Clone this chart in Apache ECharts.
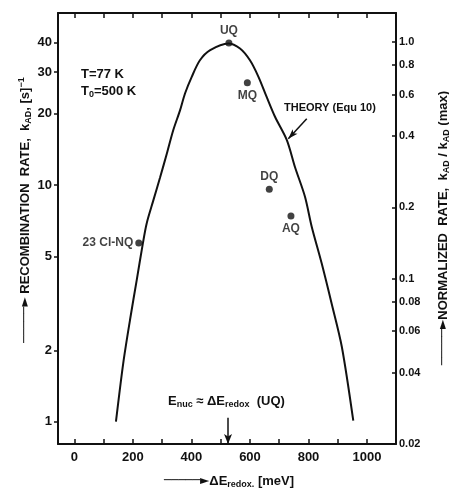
<!DOCTYPE html>
<html><head><meta charset="utf-8">
<script src="https://cdn.jsdelivr.net/npm/echarts@6/dist/echarts.min.js"></script>
<style>html,body{margin:0;padding:0;background:#fff}#c{width:449px;height:489px}</style>
</head><body><div id="c"></div>
<script>
// Theory curve (Equ 10)
const theoryX = [142, 167, 190, 213, 234, 247, 270, 293, 316, 338, 361, 378, 401, 429, 464, 526, 566, 600, 629, 657, 686, 726, 754, 788, 811, 845, 879, 914, 953];
const theoryY = [1.0, 1.77, 2.69, 3.97, 5.67, 6.89, 8.64, 10.8, 13.6, 17.1, 20.7, 24.4, 28.7, 33.7, 37.2, 39.7, 37.8, 33.7, 28.7, 23.6, 19.4, 15.5, 11.9, 8.93, 6.67, 4.67, 3.16, 2.07, 1.01];
// Measured quinones
const pointNames = ['UQ', 'MQ', 'DQ', 'AQ', '23 Cl-NQ'];
const pointX = [528, 591, 666, 740, 220];
const pointY = [39.9, 27.1, 9.6, 7.4, 5.7];
// Axis ticks
const xTickValues = [0, 100, 200, 300, 400, 500, 600, 700, 800, 900, 1000];
const xLabelValues = [0, 200, 400, 600, 800, 1000];
const leftTickValues = [1, 2, 5, 10, 20, 30, 40];
const rightTickValues = [0.02, 0.04, 0.06, 0.08, 0.1, 0.2, 0.4, 0.6, 0.8, 1.0];
const rightTickLabels = ['0.02', '0.04', '0.06', '0.08', '0.1', '0.2', '0.4', '0.6', '0.8', '1.0'];
// Annotation arrows (data coords)
const ucArrow = [[525, 1.04], [525, 0.805]];
const theoryArrow = [[794, 19.1], [731, 15.7]];

const FONT = "'Liberation Sans', Arial, sans-serif";
const INK = '#111';
const labelPos = { 'UQ': 'top', 'MQ': 'bottom', 'DQ': 'top', 'AQ': 'bottom', '23 Cl-NQ': 'left' };

const chart = echarts.init(document.getElementById('c'), null, { renderer: 'canvas' });

const theoryData = theoryX.map((x, i) => [x, theoryY[i]]);
const pointData = pointNames.map((n, i) => ({
  name: n, value: [pointX[i], pointY[i]],
  label: { position: labelPos[n], distance: n === '23 Cl-NQ' ? 2 : 3 }
}));

const axisLineStyle = { color: INK, width: 2 };
const sub = { fontSize: 9, lineHeight: 10, verticalAlign: 'bottom', fontFamily: FONT, fontWeight: 'bold', fill: INK };
const sup = { fontSize: 9, lineHeight: 10, verticalAlign: 'top', fontFamily: FONT, fontWeight: 'bold', fill: INK };
const base = { fontSize: 13, lineHeight: 16, fontFamily: FONT, fontWeight: 'bold', fill: INK };
const arr = { fontSize: 12, lineHeight: 16, fontFamily: "'DejaVu Sans', sans-serif", fill: INK };

function richText(text, x, y, opts) {
  return Object.assign({
    type: 'text', x: x, y: y, silent: true,
    style: Object.assign({
      text: text, fill: INK, font: 'bold 13px ' + FONT,
      align: 'left', verticalAlign: 'middle',
      rich: { b: base, s: sub, p: sup, a: arr }
    }, opts && opts.style || {})
  }, opts && opts.el || {});
}

const option = {
  backgroundColor: '#fff',
  animation: false,
  grid: { left: 58, right: 53, top: 13, bottom: 45, containLabel: false, outerBoundsMode: 'none' },
  xAxis: [{
    type: 'value', position: 'bottom', min: -56, max: 1099,
    axisLine: { show: true, onZero: false, lineStyle: axisLineStyle },
    axisTick: { show: true, inside: true, length: 5, lineStyle: { color: INK, width: 1.5 }, customValues: xTickValues },
    axisLabel: { show: true, customValues: xLabelValues, margin: 7, color: INK, fontSize: 13, fontWeight: 'bold', fontFamily: FONT,
      formatter: v => String(Math.round(v)) },
    splitLine: { show: false }
  }, {
    type: 'value', position: 'top', min: -56, max: 1099,
    axisLine: { show: true, onZero: false, lineStyle: axisLineStyle },
    axisTick: { show: true, inside: true, length: 5, lineStyle: { color: INK, width: 1.5 }, customValues: xTickValues },
    axisLabel: { show: false },
    splitLine: { show: false }
  }],
  yAxis: [{
    type: 'log', position: 'left', min: 0.805, max: 53.4,
    axisLine: { show: true, onZero: false, lineStyle: axisLineStyle },
    axisTick: { show: true, inside: false, length: 4, lineStyle: { color: INK, width: 1.5 }, customValues: leftTickValues },
    axisLabel: { show: true, customValues: leftTickValues, margin: 6, color: INK, fontSize: 13, fontWeight: 'bold', fontFamily: FONT,
      formatter: v => String(Math.round(v)) },
    minorTick: { show: false },
    splitLine: { show: false }
  }, {
    type: 'log', position: 'right', min: 0.02, max: 1.327,
    axisLine: { show: true, onZero: false, lineStyle: axisLineStyle },
    axisTick: { show: true, inside: true, length: 4, lineStyle: { color: INK, width: 1.5 }, customValues: rightTickValues },
    axisLabel: { show: true, customValues: rightTickValues, margin: 3, color: INK, fontSize: 11, fontWeight: 'bold', fontFamily: FONT,
      formatter: v => {
        let best = 0, bd = Infinity;
        rightTickValues.forEach((t, i) => { const d = Math.abs(Math.log(t) - Math.log(v)); if (d < bd) { bd = d; best = i; } });
        return rightTickLabels[best];
      } },
    splitLine: { show: false }
  }],
  series: [{
    type: 'line', name: 'THEORY', xAxisIndex: 0, yAxisIndex: 0,
    data: theoryData, smooth: 0.3, showSymbol: false, symbol: 'none',
    lineStyle: { color: INK, width: 2 }, silent: true, z: 3
  }, {
    type: 'scatter', name: 'data', xAxisIndex: 0, yAxisIndex: 0,
    data: pointData, symbol: 'circle', symbolSize: 7,
    itemStyle: { color: INK },
    label: { show: true, formatter: p => p.name, color: INK, fontSize: 12, fontWeight: 'bold', fontFamily: FONT },
    silent: true, z: 4,
    markLine: {
      silent: true, animation: false,
      label: { show: false },
      lineStyle: { color: INK, width: 1.5, type: 'solid' },
      data: [
        [{ coord: ucArrow[0], symbol: 'none' }, { coord: ucArrow[1], symbol: 'arrow', symbolSize: [6, 10] }],
        [{ coord: theoryArrow[0], symbol: 'none' }, { coord: theoryArrow[1], symbol: 'arrow', symbolSize: [5, 10] }]
      ]
    }
  }],
  graphic: [
    richText('T=77 K', 81, 74),
    richText('{b|T}{s|0}{b|=500 K}', 81, 91),
    richText('THEORY (Equ 10)', 284, 108, { style: { font: 'bold 11px ' + FONT } }),
    richText('{b|E}{s|nuc}{b| ≈ ΔE}{s|redox}{b|  (UQ)}', 168, 401, { style: {} }),
    richText('{a|─────►}{b|ΔE}{s|redox.}{b| [meV]}', 229, 481, { style: { align: 'center' } }),
    richText('{a|─────►}{b| RECOMBINATION  RATE,  k}{s|AD}{b|, [s]}{p|−1}', 25, 210,
      { style: { align: 'center' }, el: { rotation: Math.PI / 2 } }),
    richText('{a|─────►}{b|NORMALIZED  RATE,  k}{s|AD}{b| / k}{s|AD}{b| (max)}', 443, 228,
      { style: { align: 'center' }, el: { rotation: Math.PI / 2 } })
  ]
};
chart.setOption(option);
</script>
</body></html>
